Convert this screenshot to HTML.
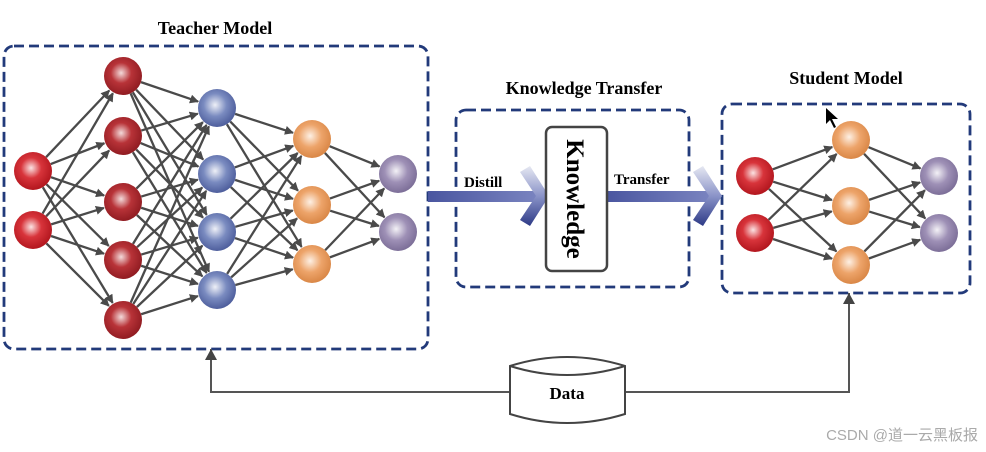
<!DOCTYPE html>
<html><head><meta charset="utf-8"><style>
html,body{margin:0;padding:0;background:#fff;}
svg{display:block;}
text{font-family:"Liberation Serif",serif;font-weight:bold;}
</style></head><body>
<svg id="s" width="986" height="452" viewBox="0 0 986 452" xmlns="http://www.w3.org/2000/svg">
<defs>
<radialGradient id="gr" cx="45%" cy="42%" r="60%"><stop offset="0" stop-color="#fbe3e3"/><stop offset="0.45" stop-color="#d8343b"/><stop offset="1" stop-color="#b0141c"/></radialGradient>
<radialGradient id="gd" cx="45%" cy="42%" r="60%"><stop offset="0" stop-color="#f3dada"/><stop offset="0.45" stop-color="#b83338"/><stop offset="1" stop-color="#8e1a20"/></radialGradient>
<radialGradient id="gb" cx="45%" cy="42%" r="60%"><stop offset="0" stop-color="#eef0f7"/><stop offset="0.5" stop-color="#7a8bc0"/><stop offset="1" stop-color="#4b5b9a"/></radialGradient>
<radialGradient id="go" cx="45%" cy="42%" r="60%"><stop offset="0" stop-color="#fdf0e4"/><stop offset="0.5" stop-color="#eda46a"/><stop offset="1" stop-color="#d88544"/></radialGradient>
<radialGradient id="gp" cx="45%" cy="42%" r="60%"><stop offset="0" stop-color="#f3f1f6"/><stop offset="0.5" stop-color="#9e90b6"/><stop offset="1" stop-color="#7a6c96"/></radialGradient>
<marker id="ah" markerWidth="9" markerHeight="9" refX="8" refY="4.5" orient="auto" markerUnits="userSpaceOnUse"><path d="M0,0 L9,4.5 L0,9 z" fill="#4a4a4a"/></marker>
<linearGradient id="ar" x1="0" y1="0" x2="1" y2="0"><stop offset="0" stop-color="#4a56a0"/><stop offset="1" stop-color="#7a84c0"/></linearGradient>
<linearGradient id="ch" x1="0" y1="0" x2="0" y2="1"><stop offset="0" stop-color="#e6e8f2"/><stop offset="0.5" stop-color="#8a93c8"/><stop offset="1" stop-color="#2d3a86"/></linearGradient>
</defs>
<g fill="none" stroke="#223a7a" stroke-width="2.8" stroke-dasharray="10,5">
<rect x="4" y="46" width="424" height="303" rx="10"/>
<rect x="456" y="110" width="233" height="177" rx="10"/>
<rect x="722" y="104" width="248" height="189" rx="10"/>
</g>
<g id="lines" stroke="#4a4a4a" stroke-width="2.3" fill="none"></g>
<g id="nodes"></g>
<rect x="428" y="191" width="110" height="11" fill="url(#ar)"/>
<path d="M520,172 L530,166 L549,196 L530,226 L520,220 L536,196 z" fill="url(#ch)"/>
<rect x="607" y="191" width="104" height="11" fill="url(#ar)"/>
<path d="M693,172 L703,166 L722,196 L703,226 L693,220 L709,196 z" fill="url(#ch)"/>
<rect x="546" y="127" width="61" height="144" rx="6" fill="#fff" stroke="#444" stroke-width="2.5"/>
<text x="0" y="0" font-size="25" text-anchor="middle" transform="translate(567,199) rotate(90)">Knowledge</text>
<text x="464" y="187" font-size="15">Distill</text>
<text x="614" y="184" font-size="15">Transfer</text>
<text x="215" y="34" font-size="18" text-anchor="middle">Teacher Model</text>
<text x="584" y="94" font-size="18" text-anchor="middle">Knowledge Transfer</text>
<text x="846" y="84" font-size="18" text-anchor="middle">Student Model</text>
<path d="M211,349 L211,392 L510,392" stroke="#555" stroke-width="2" fill="none"/>
<path d="M205,360 L211,349 L217,360 z" fill="#444"/>
<path d="M625,392 L849,392 L849,293" stroke="#555" stroke-width="2" fill="none"/>
<path d="M843,304 L849,293 L855,304 z" fill="#444"/>
<path d="M510,366 Q567,348 625,366 L625,414 Q567,432 510,414 z" fill="#fff" stroke="#444" stroke-width="2"/>
<path d="M510,366 Q567,384 625,366" fill="none" stroke="#444" stroke-width="2"/>
<text x="567" y="399" font-size="17" text-anchor="middle">Data</text>
<path d="M826,108 L826,124 L830,120 L834,128 L836,127 L832,119 L838,119 z" fill="#000"/>
<text x="978" y="440" font-size="15" text-anchor="end" fill="#aaa" style="font-family:'Liberation Sans','Noto Sans CJK SC',sans-serif;font-weight:normal">CSDN @道一云黑板报</text>
</svg>
<script>
var NS="http://www.w3.org/2000/svg";
function L(xs,ys,g){return ys.map(function(y){return [xs,y,g];});}
var r=19;
var T=[L(33,[171,230],"gr"),L(123,[76,136,202,260,320],"gd"),L(217,[108,174,232,290],"gb"),L(312,[139,205,264],"go"),L(398,[174,232],"gp")];
var S=[L(755,[176,233],"gr"),L(851,[140,206,265],"go"),L(939,[176,233],"gp")];
var lines=document.getElementById("lines"),nodes=document.getElementById("nodes");
function draw(net){
 for(var i=0;i<net.length-1;i++)net[i].forEach(function(a){net[i+1].forEach(function(b){
  var dx=b[0]-a[0],dy=b[1]-a[1],d=Math.sqrt(dx*dx+dy*dy);
  var l=document.createElementNS(NS,"line");
  l.setAttribute("x1",a[0]+dx/d*r);l.setAttribute("y1",a[1]+dy/d*r);
  l.setAttribute("x2",b[0]-dx/d*(r+1));l.setAttribute("y2",b[1]-dy/d*(r+1));
  l.setAttribute("marker-end","url(#ah)");lines.appendChild(l);});});
 net.forEach(function(layer){layer.forEach(function(n){
  var c=document.createElementNS(NS,"circle");c.setAttribute("cx",n[0]);c.setAttribute("cy",n[1]);c.setAttribute("r",r);
  c.setAttribute("fill","url(#"+n[2]+")");nodes.appendChild(c);});});
}
draw(T);draw(S);
</script>
</body></html>
